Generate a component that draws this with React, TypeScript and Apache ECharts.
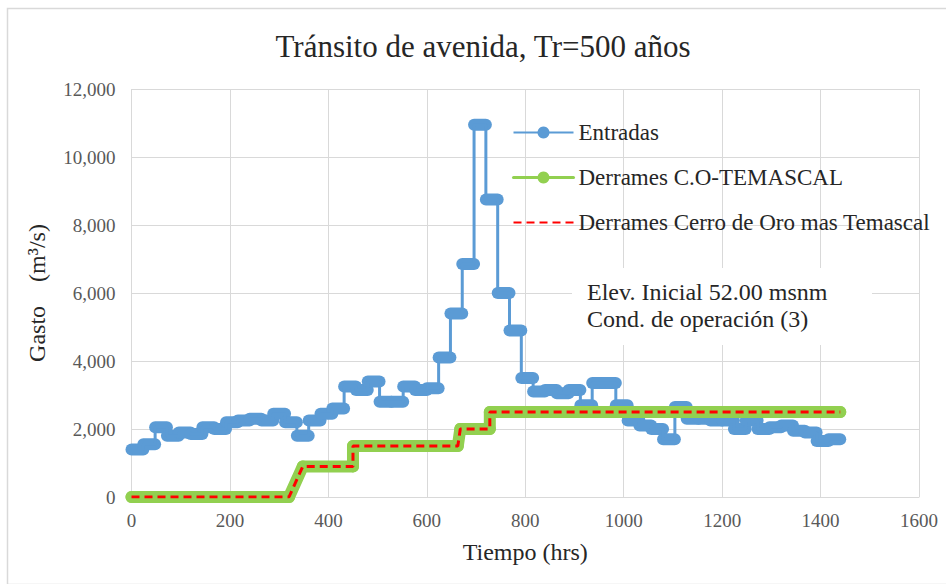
import { useEffect, useRef } from 'react';
import * as echarts from 'echarts';

const titleText = 'Tránsito de avenida, Tr=500 años';
const xName = 'Tiempo (hrs)';
const yName = 'Gasto    (m³/s)';
const seriesNames = ['Entradas', 'Derrames C.O-TEMASCAL', 'Derrames Cerro de Oro mas Temascal'];
const noteLines = ['Elev. Inicial 52.00 msnm', 'Cond. de operación (3)'];

// Daily inflow (24 h steps), m3/s
const stepHours = 24;
const entradas = [
  1400, 1550, 2050, 1800, 1900, 1850, 2050, 2000, 2200, 2250,
  2300, 2250, 2450, 2200, 1800, 2250, 2450, 2600, 3250, 3150,
  3400, 2800, 2800, 3250, 3150, 3200, 4100, 5400, 6850, 10950,
  8750, 6000, 4900, 3500, 3100, 3150, 3050, 3150, 2700, 3350,
  3350, 2700, 2250, 2100, 2000, 1700, 2650, 2300, 2300, 2250,
  2250, 2000, 2250, 2000, 2050, 2100, 1950, 1900, 1650, 1700,
];

// Outflow breakpoints
const derramesT = [0, 320, 348, 450, 450, 663, 668, 728, 728, 1440];
const derramesQ = [0, 0, 900, 900, 1500, 1500, 2000, 2000, 2500, 2500];

const xTicks = { min: 0, max: 1600, interval: 200 };
const yTicks = { min: 0, max: 12000, interval: 2000 };

const FONT = 'Liberation Serif';

export default function App() {
  const ref = useRef<HTMLDivElement>(null);
  useEffect(() => {
    if (!ref.current) return;
    const chart = echarts.init(ref.current, null, { renderer: 'svg' });
    const entradasData: number[][] = [];
    const entradasSegs: number[][] = [];
    entradas.forEach((v, i) => {
      entradasData.push([i * stepHours, v]);
      entradasData.push([(i + 1) * stepHours, v]);
      entradasSegs.push([i * stepHours, (i + 1) * stepHours, v]);
    });
    const derramesData = derramesT.map((t, i) => [t, derramesQ[i]]);

    chart.setOption({
      animation: false,
      backgroundColor: '#ffffff',
      textStyle: { fontFamily: FONT },
      grid: { left: 131.5, right: 27, top: 89, bottom: 87, containLabel: false },
      legend: {
        orient: 'vertical',
        left: 512,
        top: 121,
        padding: 0,
        itemWidth: 60,
        itemHeight: 15,
        itemGap: 22,
        textStyle: { fontFamily: FONT, fontSize: 23, color: '#262626' },
        data: [
          { name: seriesNames[0] },
          { name: seriesNames[1], lineStyle: { width: 3 } },
          {
            name: seriesNames[2],
            itemStyle: { color: 'rgba(0,0,0,0)', borderColor: 'rgba(0,0,0,0)', borderWidth: 0 },
          },
        ],
      },
      xAxis: {
        type: 'value',
        min: xTicks.min,
        max: xTicks.max,
        interval: xTicks.interval,
        name: xName,
        nameLocation: 'middle',
        nameGap: 43,
        nameTextStyle: { fontFamily: FONT, fontSize: 24, color: '#262626' },
        axisLine: { show: true, lineStyle: { color: '#d9d9d9', width: 1 } },
        axisTick: { show: false },
        axisLabel: {
          fontFamily: FONT,
          fontSize: 19,
          color: '#595959',
          margin: 14,
          formatter: (v: number) => String(v),
        },
        splitLine: { show: true, lineStyle: { color: '#d9d9d9', width: 1 } },
      },
      yAxis: {
        type: 'value',
        min: yTicks.min,
        max: yTicks.max,
        interval: yTicks.interval,
        name: yName,
        nameLocation: 'middle',
        nameRotate: 90,
        nameGap: 83,
        nameTextStyle: { fontFamily: FONT, fontSize: 24, color: '#262626' },
        axisLine: { show: false },
        axisTick: { show: false },
        axisLabel: {
          fontFamily: FONT,
          fontSize: 19,
          color: '#595959',
          margin: 16,
          formatter: (v: number) => v.toLocaleString('en-US'),
        },
        splitLine: { show: true, lineStyle: { color: '#d9d9d9', width: 1 } },
      },
      series: [
        {
          name: seriesNames[0],
          type: 'line',
          data: entradasData,
          symbol: 'circle',
          symbolSize: 12,
          showSymbol: false,
          itemStyle: { color: '#5B9BD5' },
          lineStyle: { color: '#5B9BD5', width: 3 },
          z: 2,
        },
        {
          name: 'Entradas-dias',
          type: 'custom',
          data: entradasSegs,
          encode: { x: [0, 1], y: 2 },
          renderItem: (params: any, api: any) => {
            const p0 = api.coord([api.value(0), api.value(2)]);
            const p1 = api.coord([api.value(1), api.value(2)]);
            return {
              type: 'line',
              shape: { x1: p0[0], y1: p0[1], x2: p1[0], y2: p1[1] },
              style: { stroke: '#5B9BD5', lineWidth: 12, lineCap: 'round' },
            };
          },
          z: 2,
        },
        {
          name: seriesNames[1],
          type: 'line',
          data: derramesData,
          symbol: 'circle',
          symbolSize: 12,
          showSymbol: true,
          itemStyle: { color: '#92D050' },
          lineStyle: { color: '#92D050', width: 12, cap: 'round', join: 'round' },
          z: 3,
        },
        {
          name: seriesNames[2],
          type: 'line',
          data: derramesData,
          symbol: 'none',
          itemStyle: { color: '#FF0000' },
          lineStyle: { color: '#FF0000', width: 3, type: [8, 5] },
          z: 4,
        },
      ],
      graphic: [
        {
          type: 'rect',
          left: 5,
          top: 6,
          shape: { x: 0, y: 0, width: 945, height: 576 },
          style: { fill: 'none', stroke: '#d9d9d9', lineWidth: 1.5 },
          silent: true,
        },
        {
          type: 'text',
          x: 483,
          y: 46,
          style: {
            text: titleText,
            fontFamily: FONT,
            fontSize: 31,
            fill: '#262626',
            align: 'center',
            verticalAlign: 'middle',
          },
        },
        {
          type: 'rect',
          x: 572,
          y: 268,
          shape: { x: 0, y: 0, width: 300, height: 77 },
          style: { fill: '#ffffff', stroke: 'none' },
          z: 50,
        },
        {
          type: 'text',
          x: 587,
          y: 278,
          z: 51,
          style: {
            text: noteLines.join('\n'),
            fontFamily: FONT,
            fontSize: 24,
            lineHeight: 27,
            fill: '#262626',
            align: 'left',
            verticalAlign: 'top',
          },
        },
      ],
    });
    return () => chart.dispose();
  }, []);
  return (
    <div
      ref={ref}
      style={{ position: 'fixed', left: 0, top: 0, width: 946, height: 584 }}
    />
  );
}
